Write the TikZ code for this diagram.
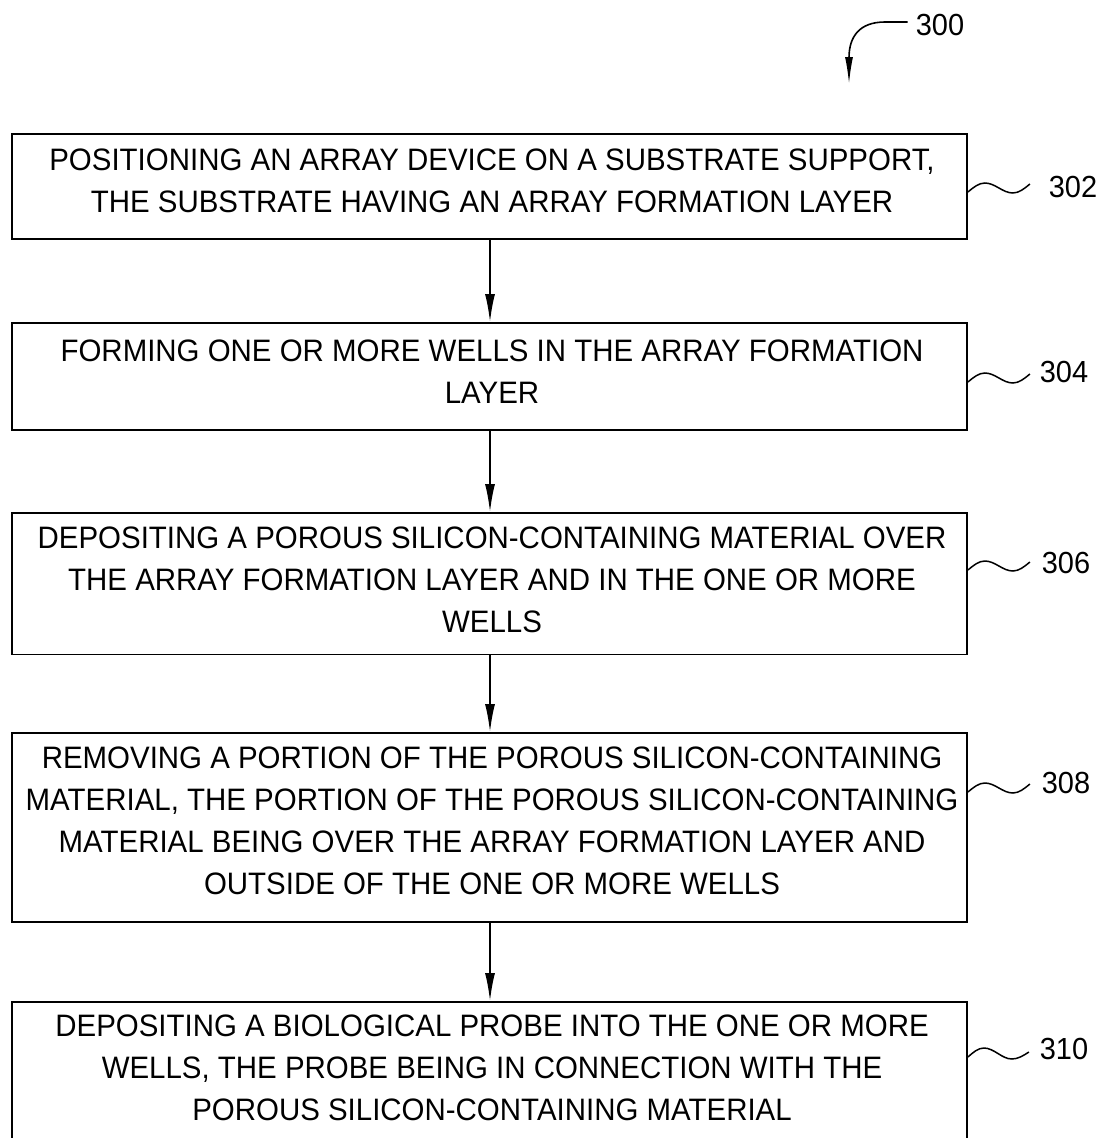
\documentclass[tikz,border=0pt]{standalone}
\usepackage{fontspec}
\setmainfont{Liberation Sans}[FakeStretch=0.95]
\usetikzlibrary{arrows.meta}
\tikzset{
  stepbox/.style={draw, line width=1.8pt, minimum width=955pt, inner sep=0pt},
  steptext/.style={align=center, inner sep=0pt, font=\fontsize{31}{42}\selectfont},
  reflabel/.style={inner sep=0pt, font=\fontsize{30.5}{34}\selectfont},
  flow/.style={line width=1.8pt, -{Latex[length=28pt,width=10pt]}},
  wave/.style={line width=1.5pt},
}
\begin{document}
\begin{tikzpicture}[x=1pt,y=-1pt]
\useasboundingbox (0,0) rectangle (1102,1138);
\clip (0,0) rectangle (1102,1138);
% boxes
\node[stepbox, minimum height=105pt]   (b1) at (489.5,186.5) {};
\node[stepbox, minimum height=107pt]   (b2) at (489.5,376.5) {};
\node[stepbox, minimum height=141.5pt] (b3) at (489.5,583.75) {};
\node[stepbox, minimum height=189pt]   (b4) at (489.5,827.5) {};
\node[stepbox, minimum height=146pt]   (b5) at (489.5,1075) {};
% texts
\node[steptext] (t1) at (492,181) {POSITIONING AN ARRAY DEVICE ON A SUBSTRATE SUPPORT,\\THE SUBSTRATE HAVING AN ARRAY FORMATION LAYER};
\node[steptext] (t2) at (492,372) {FORMING ONE OR MORE WELLS IN THE ARRAY FORMATION\\LAYER};
\node[steptext] (t3) at (492,580) {DEPOSITING A POROUS SILICON-CONTAINING MATERIAL OVER\\THE ARRAY FORMATION LAYER AND IN THE ONE OR MORE\\WELLS};
\node[steptext] (t4) at (492,820.5) {REMOVING A PORTION OF THE POROUS SILICON-CONTAINING\\MATERIAL, THE PORTION OF THE POROUS SILICON-CONTAINING\\MATERIAL BEING OVER THE ARRAY FORMATION LAYER AND\\OUTSIDE OF THE ONE OR MORE WELLS};
\node[steptext] (t5) at (492,1067.5) {DEPOSITING A BIOLOGICAL PROBE INTO THE ONE OR MORE\\WELLS, THE PROBE BEING IN CONNECTION WITH THE\\POROUS SILICON-CONTAINING MATERIAL};
% flow arrows
\draw[flow] (b1.south -| 490,0) -- (b2.north -| 490,0);
\draw[flow] (b2.south -| 490,0) -- (b3.north -| 490,0);
\draw[flow] (b3.south -| 490,0) -- (b4.north -| 490,0);
\draw[flow] (b4.south -| 490,0) -- (b5.north -| 490,0);
% reference labels
\node[reflabel] (l300) at (940,25) {300};
\node[reflabel] (l302) at (1073,187) {302};
\node[reflabel] (l304) at (1064,372) {304};
\node[reflabel] (l306) at (1066,563) {306};
\node[reflabel] (l308) at (1066,783) {308};
\node[reflabel] (l310) at (1064,1049) {310};
% 300 arrow
\coordinate (c300) at ([xshift=-8pt,yshift=3pt]l300.west);
\draw[line width=1.6pt, -{Latex[length=27pt,width=8pt]}] (c300) -- (885,22) .. controls (860,22) and (849,36) .. (849,84);
% squiggles
\draw[wave] (b1.east |- 0,192) sin ++(17,-9) cos ++(14,5) sin ++(14,5) cos ++(17,-9);
\draw[wave] (b2.east |- 0,382) sin ++(17,-9) cos ++(14,5) sin ++(14,5) cos ++(17,-9);
\draw[wave] (b3.east |- 0,570) sin ++(17,-9) cos ++(14,5) sin ++(14,5) cos ++(17,-9);
\draw[wave] (b4.east |- 0,792) sin ++(17,-9) cos ++(14,5) sin ++(14,5) cos ++(17,-9);
\draw[wave] (b5.east |- 0,1057) sin ++(16,-9) cos ++(14,5.5) sin ++(14,5.5) cos ++(17,-7);
\end{tikzpicture}
\end{document}
